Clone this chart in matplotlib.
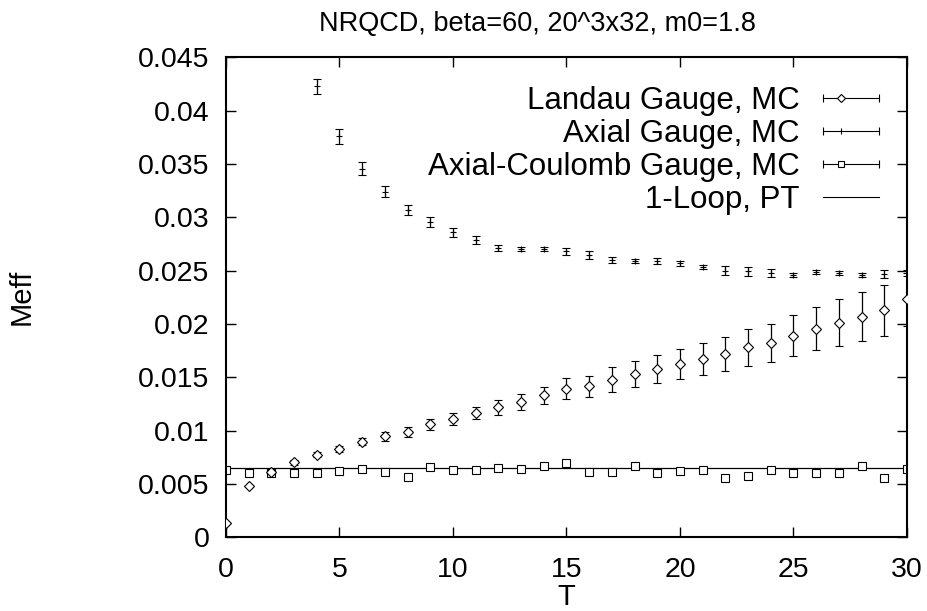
import numpy as np
import matplotlib
matplotlib.use("Agg")
import matplotlib.pyplot as plt
from matplotlib.lines import Line2D
from matplotlib.legend_handler import HandlerBase

plt.rcParams['font.family'] = ['Liberation Sans', 'DejaVu Sans']

# Landau gauge, T = 0..30
T = list(range(31))
landau = [0.00132, 0.00482, 0.00608, 0.00702, 0.00774, 0.0083, 0.00896, 0.00946, 0.0099, 0.0106,
          0.0111, 0.01165, 0.0122, 0.01266, 0.0133, 0.01394, 0.01416, 0.01479, 0.01529, 0.01579,
          0.01623, 0.01667, 0.0172, 0.0178, 0.0182, 0.0189, 0.01955, 0.0201, 0.0207, 0.02127, 0.0223]
landau_err = [0.0001, 0.0001, 0.00015, 0.0002, 0.00025, 0.0003, 0.00035, 0.0004, 0.00045, 0.0005,
              0.00055, 0.0006, 0.0007, 0.00075, 0.0008, 0.00095, 0.001, 0.00115, 0.0012, 0.0013,
              0.0014, 0.0015, 0.0016, 0.0017, 0.0018, 0.0019, 0.002, 0.0022, 0.0023, 0.0024, 0.0025]

# Axial gauge, T = 4..30 (earlier points off scale)
T_axial = list(range(4, 31))
axial = [0.0423, 0.0376, 0.03455, 0.0324, 0.03067, 0.02957, 0.0286, 0.02788, 0.0271, 0.0270,
         0.0270, 0.0268, 0.02647, 0.0260, 0.02592, 0.0259, 0.02568, 0.02535, 0.0250, 0.02494,
         0.02478, 0.02462, 0.02488, 0.0248, 0.02456, 0.0247, 0.0248]
axial_err = [0.0007, 0.0007, 0.0006, 0.0005, 0.0005, 0.0005, 0.0004, 0.0004, 0.0003, 0.0002,
             0.0002, 0.0003, 0.0004, 0.0003, 0.0002, 0.0003, 0.0002, 0.0002, 0.00045, 0.0004,
             0.0004, 0.0002, 0.0002, 0.0002, 0.0002, 0.0004, 0.0003]

# Axial-Coulomb gauge, T = 0..30
axcoul = [0.0063, 0.0060, 0.0060, 0.0060, 0.0060, 0.00623, 0.00642, 0.00614, 0.0057, 0.0066,
          0.00627, 0.00627, 0.00648, 0.00639, 0.0067, 0.00695, 0.0061, 0.0061, 0.00667, 0.0060,
          0.00623, 0.00627, 0.00557, 0.00573, 0.00627, 0.00604, 0.0060, 0.0060, 0.0067, 0.0056, 0.00636]
axcoul_err = [0.0002] * 31

# 1-loop perturbation theory
pt_T = [0, 30]
pt_val = [0.00648, 0.00648]

yticks = [0, 0.005, 0.01, 0.015, 0.02, 0.025, 0.03, 0.035, 0.04, 0.045]
ytick_labels = ["0", "0.005", "0.01", "0.015", "0.02", "0.025", "0.03", "0.035", "0.04", "0.045"]
xticks = [0, 5, 10, 15, 20, 25, 30]


class HandlerGnu(HandlerBase):
    # gnuplot style key sample: horizontal bar with end caps, point near left
    def __init__(self, marker=None, ms=5, caps=True):
        super().__init__()
        self.marker = marker
        self.ms = ms
        self.caps = caps

    def create_artists(self, legend, orig_handle, xdescent, ydescent, width, height, fontsize, trans):
        y = height / 2 - ydescent
        x0, x1 = -xdescent, -xdescent + width
        arts = [Line2D([x0, x1], [y, y], color="black", lw=0.8, transform=trans)]
        if self.caps:
            arts.append(Line2D([x0, x1], [y, y], ls="none", marker="|", ms=6, mew=0.8,
                               color="black", transform=trans))
        if self.marker is not None:
            xm = x0 + width * 0.33
            arts.append(Line2D([xm], [y], ls="none", marker=self.marker, ms=self.ms, mew=0.8,
                               mfc="white", mec="black", transform=trans))
        return arts


fig = plt.figure(figsize=(9.27, 6.11), dpi=100)
ax = fig.add_axes([0.2438, 0.1206, 0.7346, 0.7856])

ax.plot(pt_T, pt_val, color="black", lw=0.9, zorder=1)
ax.errorbar(T, landau, yerr=landau_err, fmt="D", ms=4.6, mfc="white", mec="black", mew=0.8,
            ecolor="black", elinewidth=0.9, capsize=3, capthick=0.9, zorder=3)
ax.errorbar(T_axial, axial, yerr=axial_err, fmt="+", ms=4, mec="black", mew=0.8,
            ecolor="black", elinewidth=0.9, capsize=3, capthick=0.9, zorder=3)
ax.errorbar(T, axcoul, yerr=axcoul_err, fmt="s", ms=5.2, mfc="white", mec="black", mew=0.8,
            ecolor="black", elinewidth=0.9, capsize=3, capthick=0.9, zorder=2)

ax.set_xlim(0, 30)
ax.set_ylim(0, 0.045)
ax.set_xticks(xticks)
ax.set_xticklabels([str(t) for t in xticks])
ax.set_yticks(yticks)
ax.set_yticklabels(ytick_labels)
ax.tick_params(direction="in", length=7, width=1, labelsize=20.5, top=True, right=True)
ax.tick_params(axis="x", pad=14)
ax.tick_params(axis="y", pad=12)
for s in ax.spines.values():
    s.set_linewidth(1.5)

ax.set_xlabel("T", fontsize=21, labelpad=0)
ax.set_ylabel("Meff", fontsize=21)
ax.yaxis.set_label_coords(-0.279, 0.5)
fig.text(0.580, 0.961, "NRQCD, beta=60, 20^3x32, m0=1.8", ha="center", va="center", fontsize=19.5)

h1, h2, h3, h4 = object(), object(), object(), object()
ax.legend([h1, h2, h3, h4],
          ["Landau Gauge, MC", "Axial Gauge, MC", "Axial-Coulomb Gauge, MC", "1-Loop, PT"],
          handler_map={h1: HandlerGnu("D", 4.2), h2: HandlerGnu("|", 5),
                       h3: HandlerGnu("s", 5), h4: HandlerGnu(None, caps=False)},
          loc="upper right", bbox_to_anchor=(0.982, 0.972), frameon=False, markerfirst=False,
          fontsize=22.5, handlelength=1.8, handletextpad=0.75, labelspacing=0.09, borderpad=0)

fig.savefig("out.png", dpi=100)
